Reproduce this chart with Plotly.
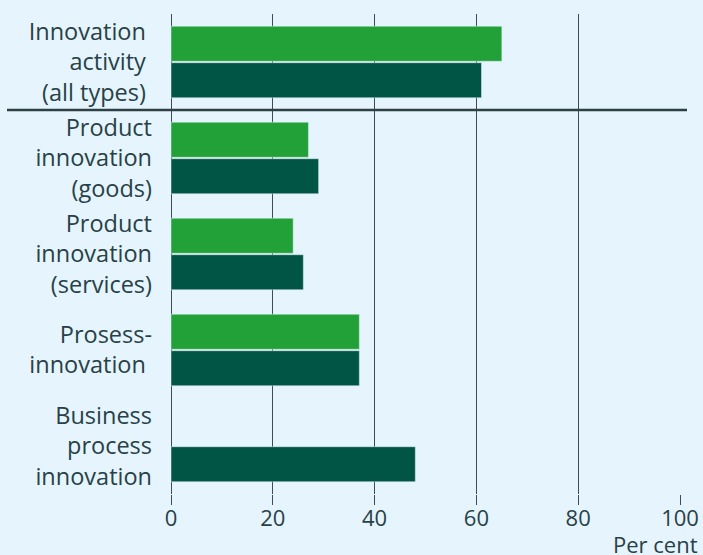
import plotly.graph_objects as go

categories = [
    "Innovation <br>activity <br>(all types) ",
    "Product<br>innovation<br>(goods)",
    "Product<br>innovation<br>(services)",
    "Prosess-<br>innovation ",
    "Business<br>process<br>innovation",
]
series_a = [65, 27, 24, 37, None]
series_b = [61, 29, 26, 37, 48]
x_ticks = [0, 20, 40, 60, 80, 100]

LIGHT = "#21a138"
DARK = "#005545"
BG = "#e6f4fd"
GRID = "#3d4d53"
TEXT = "#274247"

fig = go.Figure()
fig.add_trace(go.Bar(y=categories, x=series_a, orientation="h", marker_color=LIGHT, name="A"))
fig.add_trace(go.Bar(y=categories, x=series_b, orientation="h", marker_color=DARK, name="B"))

L, R, T, B = 171, 23, 14, 60.5
W, H = 703, 555
pw = W - L - R
ph = H - T - B

fig.update_layout(
    width=W, height=H,
    margin=dict(l=L, r=R, t=T, b=B, autoexpand=False),
    paper_bgcolor=BG, plot_bgcolor=BG,
    barmode="group", bargap=0.24, bargroupgap=0.04,
    showlegend=False,
    font=dict(family="Open Sans", size=22, color=TEXT),
    xaxis=dict(range=[0, 100], tickvals=x_ticks, showgrid=True, gridcolor=GRID, gridwidth=1,
               zeroline=True, zerolinecolor=GRID, zerolinewidth=1,
               ticks="outside", ticklen=10, tickcolor=GRID, showline=False,
               automargin=False, ticklabelstandoff=-5,
               tickfont=dict(size=22, color=TEXT)),
    yaxis=dict(autorange="reversed", showgrid=False, ticks="", ticklabelstandoff=18,
               automargin=False,
               tickfont=dict(size=23.5, color=TEXT)),
)

# separator between first category and the rest
fig.add_shape(type="line", xref="paper", yref="y", x0=(7 - L) / pw, x1=(687 - L) / pw,
              y0=0.5, y1=0.5, line=dict(color="#2f4045", width=2.5))

fig.add_annotation(text="Per cent", xref="paper", yref="paper", x=(700 - L) / pw,
                   y=(T + ph - 545) / ph,
                   xanchor="right", yanchor="middle", showarrow=False,
                   font=dict(size=22, color=TEXT))

fig.write_html("out.html", config={"displayModeBar": False},
               post_script="document.body.style.margin='0';document.body.style.background='#e6f4fd';")
